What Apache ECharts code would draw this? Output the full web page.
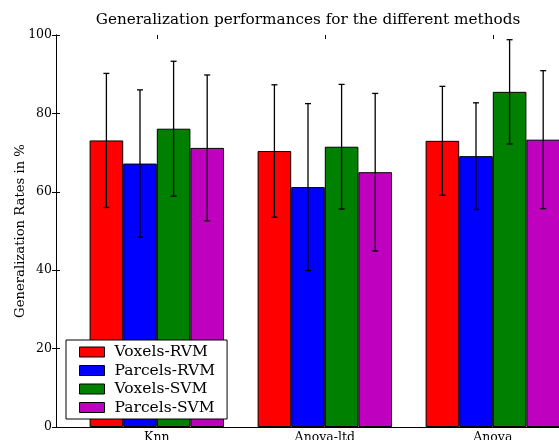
<!DOCTYPE html>
<html>
<head>
<meta charset="utf-8">
<script src="https://cdn.jsdelivr.net/npm/echarts@6/dist/echarts.min.js"></script>
<style>
html,body{margin:0;padding:0;background:#fff;}
#chart{width:559px;height:440px;}
</style>
</head>
<body>
<div id="chart"></div>
<script>
const categories = ['Knn', 'Anova-ltd', 'Anova'];
const seriesNames = ['Voxels-RVM', 'Parcels-RVM', 'Voxels-SVM', 'Parcels-SVM'];
const voxelsRVM = [73.1, 70.4, 73.0];
const parcelsRVM = [67.2, 61.2, 69.1];
const voxelsSVM = [76.1, 71.5, 85.5];
const parcelsSVM = [71.2, 65.0, 73.3];
const voxelsRVMErr = [17.1, 16.9, 13.9];
const parcelsRVMErr = [18.8, 21.3, 13.6];
const voxelsSVMErr = [17.2, 15.9, 13.3];
const parcelsSVMErr = [18.6, 20.1, 17.6];
const yTicks = [0, 20, 40, 60, 80, 100];

const colors = ['#ff0000', '#0000ff', '#008000', '#bf00bf'];
const means = [voxelsRVM, parcelsRVM, voxelsSVM, parcelsSVM];
const errs = [voxelsRVMErr, parcelsRVMErr, voxelsSVMErr, parcelsSVMErr];
const FONT = 'DejaVu Serif';

const errData = [];
means.forEach((arr, s) => arr.forEach((v, c) => {
  errData.push([c, v - errs[s][c], v + errs[s][c], s]);
}));

const chart = echarts.init(document.getElementById('chart'), null, {renderer: 'canvas'});
const nSeries = seriesNames.length;
const catGap = 0.2;

const option = {
  animation: false,
  backgroundColor: '#fff',
  title: {
    text: 'Generalization performances for the different methods',
    left: 308, top: 13, textAlign: 'center', padding: 0,
    textStyle: {fontFamily: FONT, fontSize: 15.25, fontWeight: 'normal', color: '#000'}
  },
  legend: {
    data: seriesNames,
    orient: 'vertical',
    left: 66, top: 340,
    padding: [4, 12, 3.5, 13],
    itemWidth: 25, itemHeight: 10, itemGap: 2.5,
    icon: 'rect',
    backgroundColor: '#fff', borderColor: '#000', borderWidth: 1, borderRadius: 0,
    itemStyle: {borderColor: '#000', borderWidth: 1},
    textStyle: {fontFamily: FONT, fontSize: 15.5, color: '#000', padding: [0, 0, 0, 5]}
  },
  grid: [
    {left: 56, width: 504, top: 35, height: 392, containLabel: false, outerBoundsMode: 'none'},
    {left: 72.8, width: 504, top: 35, height: 392, containLabel: false, outerBoundsMode: 'none'}
  ],
  xAxis: [
    {gridIndex: 0, type: 'value', min: 0, max: 1, position: 'bottom',
     axisLine: {show: true, lineStyle: {color: '#000', width: 1}},
     axisTick: {show: false}, axisLabel: {show: false}, splitLine: {show: false}},
    {gridIndex: 0, type: 'value', min: 0, max: 1, position: 'top',
     axisLine: {show: true, lineStyle: {color: '#000', width: 1}},
     axisTick: {show: false}, axisLabel: {show: false}, splitLine: {show: false}},
    {gridIndex: 1, type: 'category', data: categories, position: 'bottom',
     axisLine: {show: false},
     axisTick: {show: true, inside: true, alignWithLabel: true, length: 4, lineStyle: {color: '#000'}},
     axisLabel: {fontFamily: FONT, fontSize: 12.5, color: '#000', margin: 4},
     splitLine: {show: false}},
    {gridIndex: 1, type: 'category', data: categories, position: 'top',
     axisLine: {show: false},
     axisTick: {show: true, inside: true, alignWithLabel: true, length: 4, lineStyle: {color: '#000'}},
     axisLabel: {show: false}, splitLine: {show: false}}
  ],
  yAxis: [
    {gridIndex: 0, type: 'value', min: yTicks[0], max: yTicks[yTicks.length - 1], interval: 20, position: 'left',
     name: 'Generalization Rates in %', nameLocation: 'middle', nameGap: 29, nameMoveOverlap: false,
     nameTextStyle: {fontFamily: FONT, fontSize: 13.2, color: '#000'},
     axisLine: {show: true, lineStyle: {color: '#000', width: 1}},
     axisTick: {show: true, inside: true, length: 4, lineStyle: {color: '#000'}},
     axisLabel: {fontFamily: FONT, fontSize: 12.5, color: '#000', margin: 4},
     splitLine: {show: false}},
    {gridIndex: 0, type: 'value', min: yTicks[0], max: yTicks[yTicks.length - 1], interval: 20, position: 'right',
     axisLine: {show: true, lineStyle: {color: '#000', width: 1}},
     axisTick: {show: true, inside: true, length: 4, lineStyle: {color: '#000'}},
     axisLabel: {show: false}, splitLine: {show: false}},
    {gridIndex: 1, type: 'value', min: yTicks[0], max: yTicks[yTicks.length - 1], show: false, splitLine: {show: false}}
  ],
  series: seriesNames.map((name, i) => ({
    name: name,
    type: 'bar',
    xAxisIndex: 2, yAxisIndex: 2,
    data: means[i],
    barGap: '0%',
    barCategoryGap: '20%',
    itemStyle: {color: colors[i], borderColor: '#000', borderWidth: 1},
    z: 2
  })).concat([{
    name: 'errors',
    type: 'custom',
    xAxisIndex: 2, yAxisIndex: 2,
    z: 5,
    data: errData,
    renderItem: function (params, api) {
      const c = api.value(0), lo = api.value(1), hi = api.value(2), s = api.value(3);
      const band = api.size([1, 0])[0];
      const bw = band * (1 - catGap) / nSeries;
      const center = api.coord([c, 0])[0];
      const x = center - band * (1 - catGap) / 2 + bw * (s + 0.5);
      const yLo = api.coord([c, lo])[1];
      const yHi = api.coord([c, hi])[1];
      const cap = 3;
      const st = {stroke: '#000', lineWidth: 1.3};
      return {
        type: 'group',
        children: [
          {type: 'line', shape: {x1: x, y1: yLo, x2: x, y2: yHi}, style: st},
          {type: 'line', shape: {x1: x - cap, y1: yHi, x2: x + cap, y2: yHi}, style: st},
          {type: 'line', shape: {x1: x - cap, y1: yLo, x2: x + cap, y2: yLo}, style: st}
        ]
      };
    }
  }])
};
chart.setOption(option);
</script>
</body>
</html>
